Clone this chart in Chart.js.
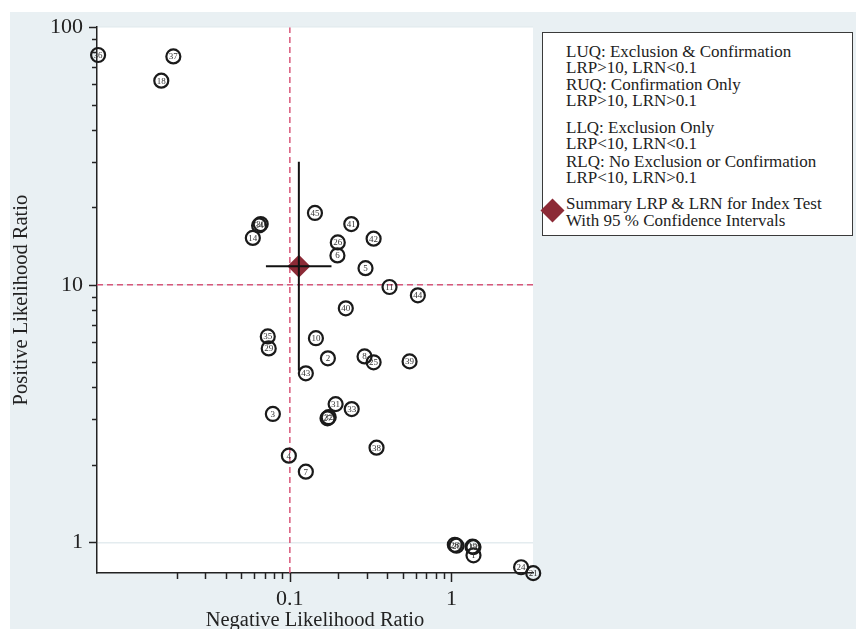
<!DOCTYPE html>
<html>
<head>
<meta charset="utf-8">
<script src="https://cdn.jsdelivr.net/npm/chart.js@4.4.0/dist/chart.umd.min.js"></script>
<style>
html,body{margin:0;padding:0;background:#ffffff;overflow:hidden;width:856px;height:629px;}
#panel{position:absolute;left:10px;top:12px;width:846px;height:617px;background:#e9f0f3;}
#wrap{position:absolute;left:0;top:0;width:856px;height:645px;}
#legendBox{position:absolute;left:542px;top:32px;width:309px;height:202px;border:1.5px solid #3a3a3a;background:#ffffff;}
.lg{position:absolute;left:566px;font-family:"Liberation Serif","Times New Roman",serif;font-size:17px;line-height:17px;color:#222;white-space:nowrap;}
#lgDiamond{position:absolute;left:543.5px;top:201.5px;width:17px;height:17px;background:#8c2a36;transform:rotate(45deg);}
</style>
</head>
<body>
<div id="panel"></div>
<div id="wrap"><canvas id="c" width="856" height="645"></canvas></div>
<div id="legendBox"></div>
<div class="lg" style="top:43px">LUQ: Exclusion &amp; Confirmation</div>
<div class="lg" style="top:59px">LRP&gt;10, LRN&lt;0.1</div>
<div class="lg" style="top:76px">RUQ: Confirmation Only</div>
<div class="lg" style="top:92px">LRP&gt;10, LRN&gt;0.1</div>
<div class="lg" style="top:119px">LLQ: Exclusion Only</div>
<div class="lg" style="top:135px">LRP&lt;10, LRN&lt;0.1</div>
<div class="lg" style="top:153px">RLQ: No Exclusion or Confirmation</div>
<div class="lg" style="top:169px">LRP&lt;10, LRN&gt;0.1</div>
<div class="lg" style="top:195px">Summary LRP &amp; LRN for Index Test</div>
<div class="lg" style="top:212px">With 95 % Confidence Intervals</div>
<div id="lgDiamond"></div>
<script>
// ---- data ----
const studyIds = ['36','37','18','45','30','34','14','41','42','26','6','5','11','44','40','35','29','10','2','8','25','39','43','31','33','32','27','3','38','4','7','28','20','19','12','1','24','21'];
const lrnValues = [0.0065,0.019,0.016,0.143,0.066,0.0645,0.059,0.24,0.33,0.198,0.197,0.294,0.414,0.62,0.222,0.073,0.074,0.145,0.172,0.29,0.33,0.551,0.1256,0.192,0.2415,0.174,0.171,0.0785,0.344,0.0986,0.1256,1.05,1.075,1.35,1.37,1.37,2.7,3.21];
const lrpValues = [78,77,62,19,17.2,17.0,15.2,17.2,15.1,14.6,13.0,11.6,9.8,9.1,8.1,6.3,5.66,6.2,5.18,5.27,5.0,5.04,4.53,3.44,3.29,3.06,3.03,3.15,2.33,2.17,1.88,0.978,0.97,0.962,0.958,0.89,0.80,0.759];
const summaryLRN = 0.1137, summaryLRP = 11.8;
const ciLRN = [0.0711, 0.181];
const ciLRP = [4.65, 30];
const refLRN = 0.1, refLRP = 10;
const xRange = [0.0064, 3.2];
const yRange = [0.76, 100];
const xMajorTicks = [0.1, 1];
const xMinorTicks = [0.02,0.03,0.04,0.05,0.06,0.07,0.08,0.09,0.2,0.3,0.4,0.5,0.6,0.7,0.8,0.9];
const yMajorTicks = [1, 10, 100];
const yMinorTicks = [2,3,4,5,6,7,8,9,20,30,40,50,60,70,80,90];

const SERIF = '"Liberation Serif","Times New Roman",serif';
const refColor = '#d8577a';
const markColor = '#8c2a36';

const studyData = lrnValues.map((v, i) => ({x: v, y: lrpValues[i]}));

const plotBg = {
  id: 'plotBg',
  beforeDraw(chart) {
    const {ctx, chartArea: a} = chart;
    ctx.save();
    ctx.fillStyle = '#ffffff';
    ctx.fillRect(a.left, a.top, a.right - a.left, a.bottom - a.top);
    ctx.restore();
  }
};

const tickMarks = {
  id: 'tickMarks',
  afterDraw(chart) {
    const {ctx} = chart;
    const xs = chart.scales.x, ys = chart.scales.y;
    ctx.save();
    ctx.strokeStyle = '#222';
    ctx.lineWidth = 1.5;
    const drawX = (vals, len) => vals.forEach(v => {
      const px = Math.round(xs.getPixelForValue(v)) + 0.5;
      ctx.beginPath(); ctx.moveTo(px, xs.top); ctx.lineTo(px, xs.top + len); ctx.stroke();
    });
    const drawY = (vals, len) => vals.forEach(v => {
      const py = Math.round(ys.getPixelForValue(v)) + 0.5;
      ctx.beginPath(); ctx.moveTo(ys.right, py); ctx.lineTo(ys.right - len, py); ctx.stroke();
    });
    drawX(xMinorTicks, 6); drawX(xMajorTicks, 9);
    drawY(yMinorTicks, 5); drawY(yMajorTicks, 8);
    ctx.restore();
  }
};

const pointLabels = {
  id: 'pointLabels',
  afterDatasetsDraw(chart) {
    const {ctx} = chart;
    const idx = chart.data.datasets.findIndex(d => d.label === 'studies');
    const meta = chart.getDatasetMeta(idx);
    ctx.save();
    ctx.font = '9px ' + SERIF;
    ctx.fillStyle = '#333';
    ctx.textAlign = 'center';
    ctx.textBaseline = 'middle';
    meta.data.forEach((el, i) => ctx.fillText(studyIds[i], el.x, el.y + 0.5));
    ctx.restore();
  }
};

new Chart(document.getElementById('c'), {
  type: 'scatter',
  data: {
    datasets: [
      {
        label: 'ciV', type: 'line', order: 0,
        data: [{x: summaryLRN, y: ciLRP[0]}, {x: summaryLRN, y: ciLRP[1]}],
        borderColor: '#111', borderWidth: 2, pointRadius: 0, showLine: true
      },
      {
        label: 'ciH', type: 'line', order: 0,
        data: [{x: ciLRN[0], y: summaryLRP}, {x: ciLRN[1], y: summaryLRP}],
        borderColor: '#111', borderWidth: 2, pointRadius: 0, showLine: true
      },
      {
        label: 'summary', order: 1,
        data: [{x: summaryLRN, y: summaryLRP}],
        pointStyle: 'rectRot', pointRadius: 11.5,
        backgroundColor: markColor, borderColor: markColor, borderWidth: 0
      },
      {
        label: 'studies', order: 2, clip: false,
        data: studyData,
        pointStyle: 'circle', pointRadius: 7,
        backgroundColor: 'rgba(0,0,0,0)', borderColor: '#1a1a1a', borderWidth: 2.2
      },
      {
        label: 'refV', type: 'line', order: 5,
        data: [{x: refLRN, y: yRange[0]}, {x: refLRN, y: yRange[1]}],
        borderColor: refColor, borderWidth: 1.5, borderDash: [6, 4], pointRadius: 0
      },
      {
        label: 'refH', type: 'line', order: 5,
        data: [{x: xRange[0], y: refLRP}, {x: xRange[1], y: refLRP}],
        borderColor: refColor, borderWidth: 1.5, borderDash: [6, 4], pointRadius: 0
      }
    ]
  },
  options: {
    responsive: false,
    animation: false,
    events: [],
    layout: {padding: {left: 0, top: 24, right: 323, bottom: 0}},
    plugins: {legend: {display: false}, tooltip: {enabled: false}},
    scales: {
      x: {
        type: 'logarithmic', position: 'bottom',
        min: xRange[0], max: xRange[1], bounds: 'data',
        afterBuildTicks: s => { s.ticks = xMajorTicks.concat(xMinorTicks).sort((a,b)=>a-b).map(v => ({value: v})); },
        afterFit: s => { s.height = 72; },
        grid: {display: false, drawTicks: false},
        border: {display: true, color: '#222', width: 1.5},
        ticks: {
          autoSkip: false, maxRotation: 0, padding: 13,
          font: {family: SERIF, size: 22}, color: '#222',
          callback: v => (xMajorTicks.includes(v) ? String(v) : '')
        },
        title: {display: true, text: 'Negative Likelihood Ratio', font: {family: SERIF, size: 20.5}, color: '#222', padding: {top: 0, bottom: 12}}
      },
      y: {
        type: 'logarithmic', position: 'left',
        min: yRange[0], max: yRange[1], bounds: 'data',
        afterBuildTicks: s => { s.ticks = yMajorTicks.concat(yMinorTicks).sort((a,b)=>a-b).map(v => ({value: v})); },
        afterFit: s => { s.width = 97; },
        grid: {
          display: true, drawTicks: false, drawOnChartArea: true,
          color: c => (c.tick && yMajorTicks.includes(c.tick.value) ? '#e4ecef' : 'rgba(0,0,0,0)'),
          lineWidth: 1.5
        },
        border: {display: true, color: '#222', width: 1.5},
        ticks: {
          autoSkip: false, padding: 14,
          font: {family: SERIF, size: 22}, color: '#222',
          callback: v => (yMajorTicks.includes(v) ? String(v) : '')
        },
        title: {display: true, text: 'Positive Likelihood Ratio', font: {family: SERIF, size: 20.5}, color: '#222', padding: {top: 9, bottom: 0}}
      }
    }
  },
  plugins: [plotBg, tickMarks, pointLabels]
});
</script>
</body>
</html>
